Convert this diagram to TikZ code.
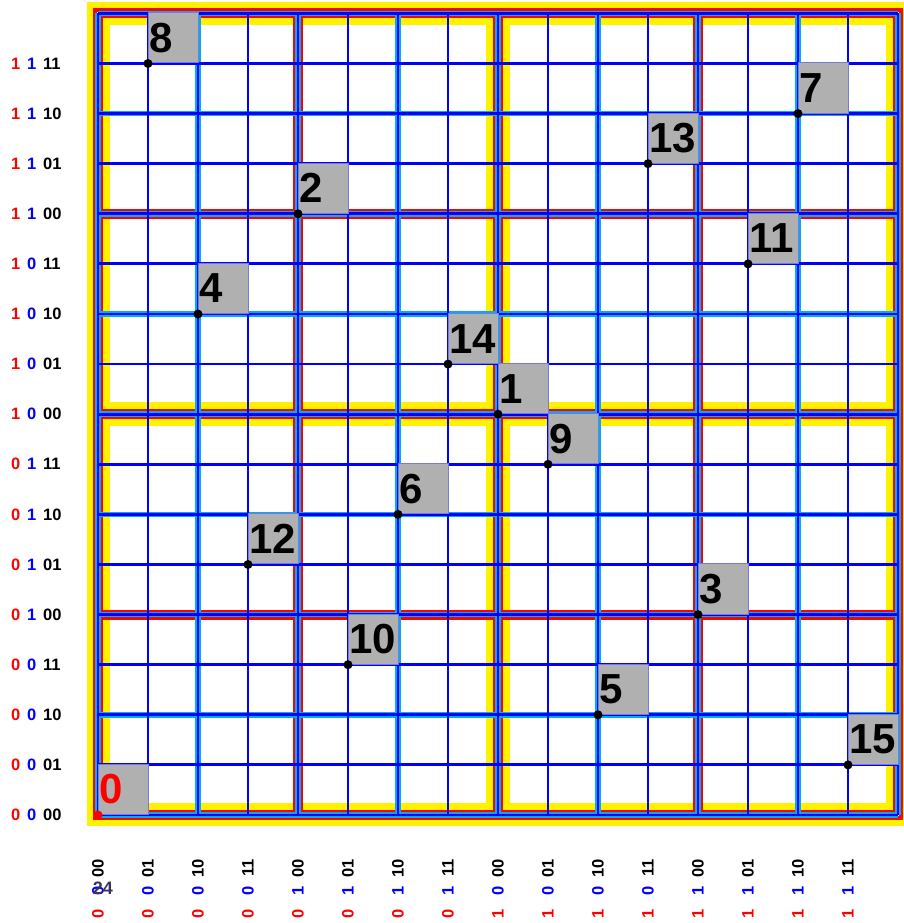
\documentclass[tikz,border=0pt]{standalone}
\usepackage{fontspec}
\setmainfont{Liberation Sans}
\definecolor{boxgray}{RGB}{176,176,176}
\definecolor{boxedge}{RGB}{120,120,225}
\definecolor{numdark}{RGB}{60,50,90}
\tikzset{
  cellline/.style={blue, line width=2.8pt},
  pairline/.style={cyan, line width=5.5pt},
  blockframe/.style={red, line width=3pt},
  quadframe/.style={yellow, line width=7pt},
  numbox/.style={draw=boxedge, line width=1pt, fill=boxgray, minimum width=50pt, minimum height=50.1pt, inner sep=0pt, anchor=south west},
  numtxt/.style={font=\fontsize{42}{42}\selectfont\bfseries, inner sep=0pt, anchor=base west},
  ptdot/.style={circle, fill=black, inner sep=0pt, minimum size=9pt},
  rowlab/.style={font=\fontsize{16.5}{16.5}\selectfont\bfseries, inner sep=0pt, anchor=west},
  collab/.style={font=\fontsize{16.5}{16.5}\selectfont\bfseries, inner sep=0pt, rotate=90},
}
\begin{document}
\begin{tikzpicture}[x=50pt, y=50.1pt]
\useasboundingbox (-98pt,-108pt) rectangle (805pt,815pt);

% outer frame
\draw[quadframe] (-8pt,-8pt) rectangle ([shift={(8pt,8pt)}]16,16);
\draw[blockframe, line width=4pt] (-3pt,-3pt) rectangle ([shift={(3pt,3pt)}]16,16);

% quadrants and blocks
\foreach \qx in {0,8}
  \foreach \qy in {0,8}
    \draw[quadframe] ([shift={(8.5pt,8.5pt)}]\qx,\qy) rectangle ([shift={(-8.5pt,-8.5pt)}]\qx+8,\qy+8);
\foreach \bx in {0,4,8,12}
  \foreach \by in {0,4,8,12}
    \draw[blockframe] ([shift={(3.5pt,3.5pt)}]\bx,\by) rectangle ([shift={(-3.5pt,-3.5pt)}]\bx+4,\by+4);

% grid
\foreach \i in {0,2,...,16} {
  \draw[pairline] (\i,0) -- (\i,16);
  \draw[pairline] (0,\i) -- (16,\i);
}
\foreach \i in {0,...,16} {
  \draw[cellline] (\i,0) -- (\i,16);
  \draw[cellline] (0,\i) -- (16,\i);
}

% sample points
\node[numbox] (box0) at (0,0) {};
\node[ptdot, fill=red] (pt0) at (box0.south west) {};
\node[numtxt, red] (num0) at ([shift={(1pt,11pt)}]box0.south west) {0};
\foreach \n/\px/\py in {1/8/8, 2/4/12, 3/12/4, 4/2/10, 5/10/2, 6/6/6, 7/14/14, 8/1/15,
    9/9/7, 10/5/3, 11/13/11, 12/3/5, 13/11/13, 14/7/9, 15/15/1} {
  \node[numbox] (box\n) at (\px,\py) {};
  \node[ptdot] (pt\n) at (box\n.south west) {};
  \node[numtxt] (num\n) at ([shift={(1pt,11pt)}]box\n.south west) {\n};
}

% bit labels
\foreach \r in {0,...,15} {
  \pgfmathtruncatemacro{\ba}{div(\r,8)}
  \pgfmathtruncatemacro{\bb}{mod(div(\r,4),2)}
  \pgfmathtruncatemacro{\bc}{mod(div(\r,2),2)}
  \pgfmathtruncatemacro{\bd}{mod(\r,2)}
  \node[rowlab] (row\r) at ([xshift=-87pt]0,\r) {\textcolor{red}{\ba}\hspace{6.8pt}\textcolor{blue}{\bb}\hspace{6.8pt}\bc\bd};
  \node[collab] (colk\r) at ([yshift=-53pt]\r,0) {\bc\bd};
  \node[collab, blue] (colb\r) at ([yshift=-76pt]\r,0) {\bb};
  \node[collab, red] (cola\r) at ([yshift=-99pt]\r,0) {\ba};
}
\node[font=\fontsize{18}{18}\selectfont\bfseries, text=numdark, inner sep=0pt] (extra) at ([shift={(5pt,-73pt)}]0,0) {24};
\end{tikzpicture}
\end{document}
